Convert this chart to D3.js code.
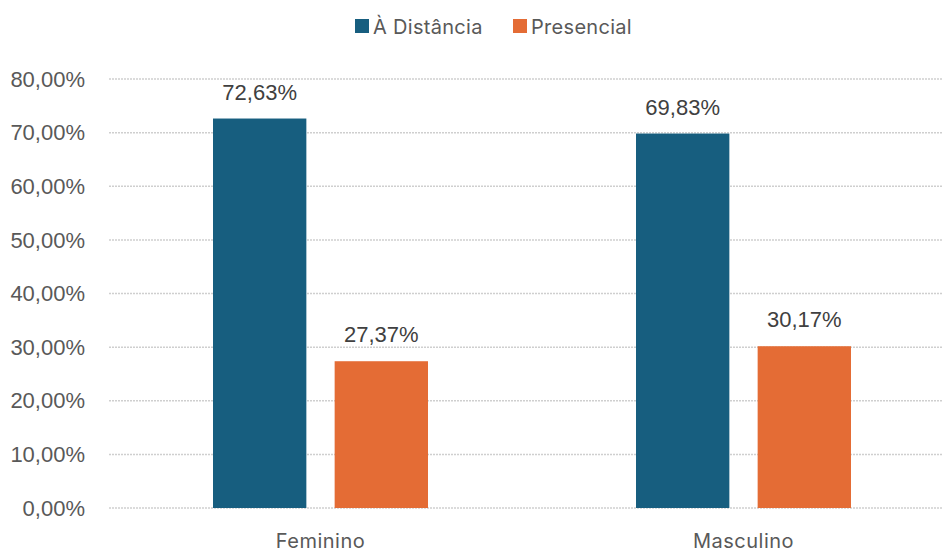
<!DOCTYPE html>
<html>
<head>
<meta charset="utf-8">
<script src="https://cdn.jsdelivr.net/npm/d3@7"></script>
<style>
  body { margin: 0; background: #fff; }
  svg { display: block; }
</style>
</head>
<body>
<svg id="chart" width="942" height="552"></svg>
<script>
const categories = ["Feminino", "Masculino"];
const seriesNames = ["À Distância", "Presencial"];
const distancia = [72.63, 69.83];
const presencial = [27.37, 30.17];
const yTicks = [0, 10, 20, 30, 40, 50, 60, 70, 80];
const colors = ["#175e7f", "#e46c35"];

const svg = d3.select("#chart");
const fmt = v => d3.format(".2f")(v).replace(".", ",") + "%";

const x = d3.scaleBand().domain(categories).range([109, 955]);
const inner = d3.scaleBand().domain(seriesNames).range([x.bandwidth() / 2 - 107.5, x.bandwidth() / 2 + 107.5]).paddingInner(25 / 215 * 2).paddingOuter(0);
const y = d3.scaleLinear().domain([0, 80]).range([508, 79]);

// gridlines
svg.append("g").selectAll("line")
  .data(yTicks)
  .join("line")
  .attr("x1", 109).attr("x2", 955)
  .attr("y1", d => y(d)).attr("y2", d => y(d))
  .attr("stroke", "#cfcfcf")
  .attr("stroke-width", 1.5)
  .attr("stroke-dasharray", "2,1");

// y tick labels
svg.append("g").selectAll("text")
  .data(yTicks)
  .join("text")
  .attr("x", 85).attr("y", d => y(d))
  .attr("dy", "0.35em")
  .attr("text-anchor", "end")
  .style("font-family", "Liberation Sans, Arial, sans-serif")
  .style("font-size", "22px")
  .style("fill", "#595959")
  .text(d => fmt(d));

const rows = [];
categories.forEach((c, i) => {
  rows.push({ cat: c, s: seriesNames[0], v: distancia[i], col: colors[0] });
  rows.push({ cat: c, s: seriesNames[1], v: presencial[i], col: colors[1] });
});

svg.append("g").selectAll("rect")
  .data(rows)
  .join("rect")
  .attr("x", d => x(d.cat) + inner(d.s))
  .attr("y", d => y(d.v))
  .attr("width", inner.bandwidth())
  .attr("height", d => y(0) - y(d.v))
  .attr("fill", d => d.col);

svg.append("g").selectAll("text")
  .data(rows)
  .join("text")
  .attr("x", d => x(d.cat) + inner(d.s) + inner.bandwidth() / 2)
  .attr("y", d => y(d.v) - 19)
  .attr("text-anchor", "middle")
  .style("font-family", "Liberation Sans, Arial, sans-serif")
  .style("font-size", "22px")
  .style("fill", "#404040")
  .text(d => fmt(d.v));

// category labels
svg.append("g").selectAll("text")
  .data(categories)
  .join("text")
  .attr("x", d => x(d) + x.bandwidth() / 2)
  .attr("y", 548)
  .attr("text-anchor", "middle")
  .style("font-family", "Inter, sans-serif")
  .style("font-size", "20px")
  .style("letter-spacing", "0.5px")
  .style("fill", "#595959")
  .text(d => d);

// legend
const legendX = [355, 513];
const lg = svg.append("g").selectAll("g")
  .data(seriesNames)
  .join("g")
  .attr("transform", (d, i) => `translate(${legendX[i]}, 19)`);
lg.append("rect").attr("width", 14).attr("height", 14).attr("fill", (d, i) => colors[i]);
lg.append("text")
  .attr("x", 18).attr("y", 8).attr("dy", "0.35em")
  .style("font-family", "Inter, sans-serif")
  .style("font-size", "20px")
  .style("letter-spacing", "0.3px")
  .style("fill", "#595959")
  .text(d => d);
</script>
</body>
</html>
